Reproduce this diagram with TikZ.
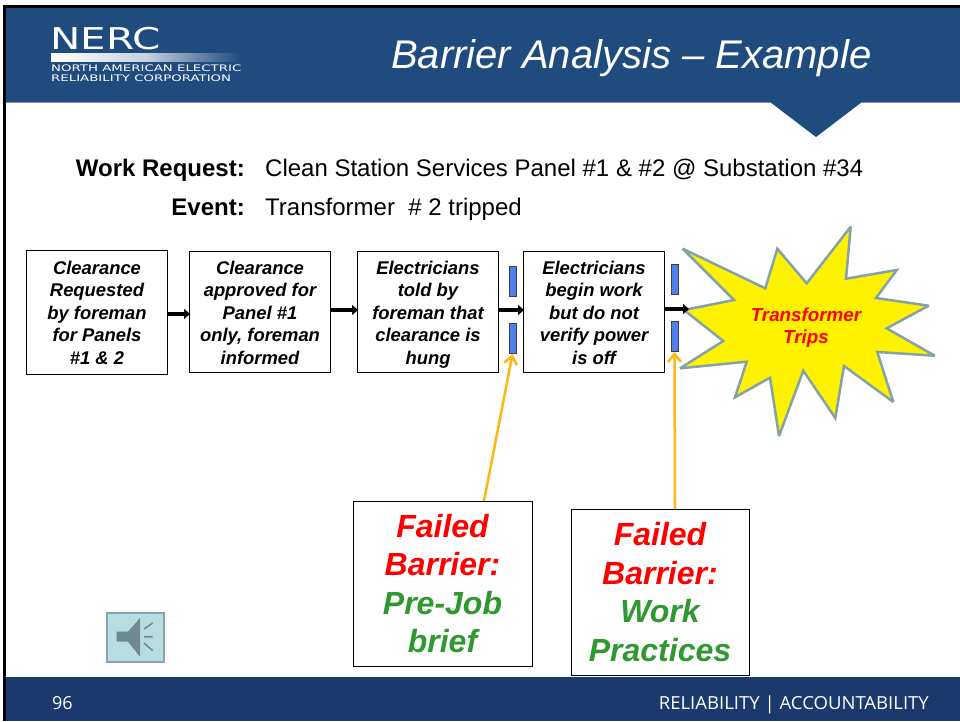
\documentclass[tikz,border=0pt]{standalone}
\usepackage{fontspec}
\setmainfont{Liberation Sans}
\newfontfamily\footfont{Open Sans}
\newfontfamily\logofont{DejaVu Sans}
\usetikzlibrary{arrows.meta}
\definecolor{hdrblue}{HTML}{1F4B7F}
\definecolor{footblue}{HTML}{1A3A6E}
\definecolor{barblue}{HTML}{4F7FE8}
\definecolor{starline}{HTML}{84A3A8}
\definecolor{orangeline}{HTML}{FDB813}
\definecolor{failgreen}{HTML}{2F982F}
\definecolor{spkfill}{HTML}{B7DDE3}
\definecolor{spkline}{HTML}{84A6A9}
\definecolor{spkdark}{HTML}{6F8A8C}
\newcommand\firstl{\rule{0pt}{20pt}}
\newcommand\lastl{\rule[-4.4pt]{0pt}{0pt}}
\tikzset{
  stepbox/.style={draw=black,line width=1pt,fill=white,minimum width=141pt,minimum height=121pt,inner sep=0pt,align=center,
    font=\fontsize{18.4}{22.4}\selectfont\bfseries\itshape},
  failbox/.style={draw=black,line width=0.8pt,fill=white,inner sep=0pt,align=center,
    font=\fontsize{32}{38.4}\selectfont\bfseries\itshape},
  barrier/.style={draw=black!75,line width=1pt,fill=barblue,minimum width=7pt,minimum height=30pt,inner sep=0pt},
  flow/.style={line width=4pt,black,-{Triangle[length=6pt,width=10pt]},shorten >=-1pt},
  failarrow/.style={line width=2.5pt,orangeline,-{Straight Barb[length=8pt,width=13pt]}},
  plain/.style={inner sep=0pt,anchor=base west},
}
\begin{document}
\begin{tikzpicture}[x=1pt,y=-1pt]
\useasboundingbox (0,0) rectangle (960,721);
\fill[white] (0,0) rectangle (960,721);
% frame
\fill[black] (3,5) rectangle (960,8);
\fill[black] (3,5) rectangle (6,721);
% header
\fill[hdrblue] (6,8) rectangle (960,102);
\fill[hdrblue] (770,102) -- (816,137) -- (862,102) -- cycle;
\draw[line width=0.8pt,hdrblue!60!white] (6,102.4) -- (770,102.4) (862,102.4) -- (960,102.4);
% footer
\fill[footblue] (6,677) rectangle (960,721);
% logo
\node[plain,white] (nerc) at (50,49) {\logofont\fontsize{30}{30}\selectfont\scalebox{1.35}[1]{NERC}};
\shade[left color=white,right color=hdrblue,middle color=white!75!hdrblue] (51,53) rectangle (240,61);
\node[plain,white] (logoa) at (51,71) {\logofont\fontsize{9}{10}\selectfont\scalebox{1.48}[1]{NORTH AMERICAN ELECTRIC}};
\node[plain,white] (logob) at (51,81) {\logofont\fontsize{9}{10}\selectfont\scalebox{1.48}[1]{RELIABILITY CORPORATION}};
% title
\node[plain,white] (title) at (391,68) {\fontsize{40}{42}\selectfont\itshape Barrier Analysis – Example};
% request
\node[inner sep=0pt,anchor=base east] (wrl) at (245,176) {\fontsize{24}{26}\selectfont\bfseries Work Request:};
\node[plain] (wrt) at (265,176) {\fontsize{24}{26}\selectfont Clean Station Services Panel \#1 \& \#2 @ Substation \#34};
\node[inner sep=0pt,anchor=base east] (evl) at (245,215) {\fontsize{24}{26}\selectfont\bfseries Event:};
\node[plain] (evt) at (265,215) {\fontsize{24}{26}\selectfont Transformer\ \ \# 2 tripped};
% boxes
\node[stepbox,minimum height=124pt] (b1) at (97,312) {\rule{0pt}{20pt}Clearance\\Requested\\by foreman\\for Panels\\\#1 \& 2\rule[-5.4pt]{0pt}{0pt}};
\node[stepbox] (b2) at (260,311.5) {\firstl Clearance\\approved for\\Panel \#1\\only, foreman\\informed\lastl};
\node[stepbox] (b3) at (428,311.5) {\firstl Electricians\\told by\\foreman that\\clearance is\\hung\lastl};
\node[stepbox] (b4) at (594,311.5) {\firstl Electricians\\begin work\\but do not\\verify power\\is off\lastl};
% barriers
\node[barrier] (ba) at (512.5,281) {};
\node[barrier] (bb) at (512.5,338.5) {};
\node[barrier] (bc) at (674.5,279.5) {};
\node[barrier] (bd) at (674.5,336.5) {};
% star
\draw[line width=2.5pt,starline,fill=yellow,line join=miter,miter limit=3]
 (682.7,248.7) -- (765.3,288.3) -- (777.3,248.7) -- (806.7,283.3) -- (850.7,226.7) -- (846,278.7) -- (896.7,270) -- (876,298) -- (928.7,305.7) -- (886.7,328.3) -- (934.7,355.7) -- (877.3,352) -- (893.3,402) -- (844,366) -- (835.3,418) -- (803.3,370.7) -- (779,436) -- (770,377.7) -- (735,397.3) -- (746.7,361.7) -- (680,368.3) -- (723.3,341) -- (684,310) -- (734,300) -- cycle;
\node[inner sep=0pt,align=center,text=red,font=\fontsize{18.8}{22}\selectfont\bfseries\itshape] (trips) at (806,328) {Transformer\\Trips};
\coordinate (starin) at (688,309);
% flow arrows
\coordinate (f1a) at (168,314); \coordinate (f1b) at (189,314);
\coordinate (f2a) at (331,310); \coordinate (f2b) at (357,310);
\coordinate (f3a) at (499,310); \coordinate (f3b) at (523,310);
\coordinate (f4a) at (665,309);
\draw[flow] (f1a) -- (f1b);
\draw[flow] (f2a) -- (f2b);
\draw[flow] (f3a) -- (f3b);
\draw[flow] (f4a) -- (starin);
% failed boxes
\node[failbox,minimum width=179pt,minimum height=165pt] (fa) at (442.5,583.5) {\textcolor{red}{Failed}\\\textcolor{red}{Barrier:}\\\textcolor{failgreen}{Pre-Job}\\\textcolor{failgreen}{brief}};
\node[failbox,minimum width=178pt,minimum height=166pt] (fb) at (660,592) {\textcolor{red}{Failed}\\\textcolor{red}{Barrier:}\\\textcolor{failgreen}{Work}\\\textcolor{failgreen}{Practices}};
\coordinate (faout) at (484,501);
\coordinate (fbout) at (675,509);
\draw[failarrow] (faout) -- (bb.south);
\draw[failarrow] (fbout) -- (bd.south);
% speaker
\draw[line width=2pt,spkline,fill=spkfill] (106.5,612.5) rectangle (163.5,661.5);
\fill[spkdark] (116.7,631.7) -- (128,631.7) -- (140,618) -- (140,656.7) -- (128,641.7) -- (116.7,641.7) -- cycle;
\draw[line width=1.6pt,spkdark] (144,629) -- (152.7,623) (144,636.7) -- (152.7,636.7) (144,643) -- (152.7,650.7);
% footer text
\node[plain,white] (pg) at (52,709.5) {\footfont\fontsize{18}{20}\selectfont 96};
\node[inner sep=0pt,anchor=base east,white] (tag) at (929,709.5) {\footfont\fontsize{18}{20}\selectfont\scalebox{1.03}[1]{RELIABILITY | ACCOUNTABILITY}};
\end{tikzpicture}
\end{document}
